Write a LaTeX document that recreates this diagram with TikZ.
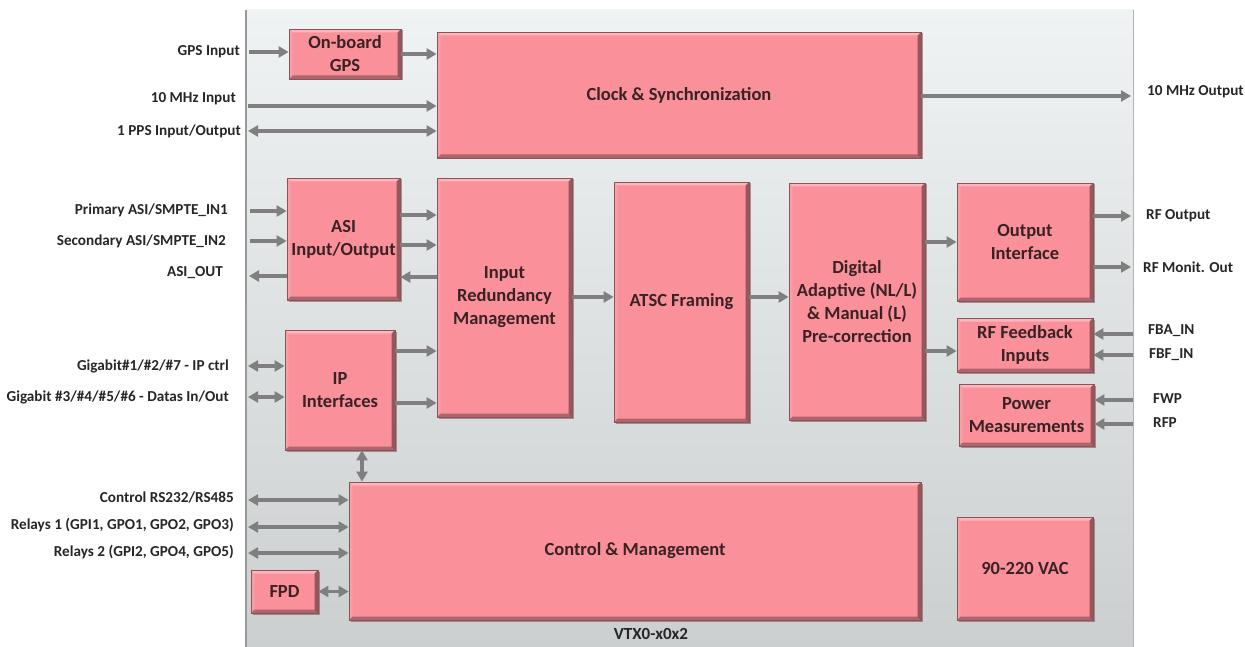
\documentclass[tikz,border=0pt]{standalone}
\usepackage{fontspec}
\setmainfont{Carlito}
\usetikzlibrary{arrows.meta,shadows}
\definecolor{boxpink}{HTML}{F9909A}
\definecolor{boxedge}{HTML}{8E5358}
\definecolor{boxdark}{HTML}{6E3C40}
\definecolor{arrgray}{HTML}{7F7F7F}
\definecolor{paneltop}{HTML}{F0F3F3}
\definecolor{panelbot}{HTML}{CBCFCF}
\definecolor{txt}{HTML}{262626}
\definecolor{btxt}{HTML}{3A2224}
\begin{document}
\begin{tikzpicture}[x=1pt,y=-1pt,
 blk/.style={rectangle, fill=boxpink, draw=boxedge, line width=0.8pt, inner sep=2pt, align=center,
   font=\fontsize{18.5}{23}\selectfont\bfseries, text=btxt,
   general shadow={shadow xshift=1.5pt, shadow yshift=-1.5pt, fill=boxdark, opacity=0.5},
   path picture={
     \fill[white,opacity=.35] (path picture bounding box.north west) -- (path picture bounding box.north east)
        -- ([shift={(-3.5pt,-3.5pt)}]path picture bounding box.north east) -- ([shift={(3.5pt,-3.5pt)}]path picture bounding box.north west) -- cycle;
     \fill[black,opacity=.3] (path picture bounding box.south west) -- (path picture bounding box.south east)
        -- ([shift={(-3.5pt,3.5pt)}]path picture bounding box.south east) -- ([shift={(3.5pt,3.5pt)}]path picture bounding box.south west) -- cycle;
     \fill[black,opacity=.4] (path picture bounding box.north east) -- (path picture bounding box.south east)
        -- ([shift={(-3.5pt,3.5pt)}]path picture bounding box.south east) -- ([shift={(-3.5pt,-3.5pt)}]path picture bounding box.north east) -- cycle;
     \fill[white,opacity=.12] (path picture bounding box.north west) -- (path picture bounding box.south west)
        -- ([shift={(3.5pt,3.5pt)}]path picture bounding box.south west) -- ([shift={(3.5pt,-3.5pt)}]path picture bounding box.north west) -- cycle;
   }},
 lbl/.style={font=\fontsize{15.2}{18}\selectfont\bfseries, text=txt, inner sep=0},
 lbll/.style={lbl, anchor=east},
 lblr/.style={lbl, anchor=west},
 arr/.style={draw=arrgray, line width=3.5pt, -{Triangle[length=10pt,width=11pt]}},
 darr/.style={draw=arrgray, line width=3.5pt, {Triangle[length=10pt,width=11pt]}-{Triangle[length=10pt,width=11pt]}},
]
\useasboundingbox (0,0) rectangle (1245,647);
% panel
\fill[top color=paneltop, bottom color=panelbot] (246,10) rectangle (1133,647);
\draw[gray!80, line width=1.2pt] (246,10) -- (246,647);
\draw[gray!60, line width=1pt] (1133,10) -- (1133,647);

% blocks
\node[blk, minimum width=112, minimum height=50] (gps) at (345,54) {On-board\\GPS};
\node[blk, minimum width=484, minimum height=126] (clock) at (679,95) {Clock \& Synchronization};
\node[blk, minimum width=113, minimum height=122] (asi) at (343.5,239) {ASI\\Input/Output};
\node[blk, minimum width=135, minimum height=239] (irm) at (504.5,297.5) {Input\\Redundancy\\Management};
\node[blk, minimum width=135, minimum height=240] (atsc) at (681.5,302) {ATSC Framing};
\node[blk, minimum width=136, minimum height=237] (dig) at (857,301.5) {Digital\\Adaptive (NL/L)\\\& Manual (L)\\Pre-correction};
\node[blk, minimum width=136, minimum height=118] (outif) at (1025,242) {Output\\Interface};
\node[blk, minimum width=136, minimum height=54] (rffb) at (1025,345) {RF Feedback\\Inputs};
\node[blk, minimum width=135, minimum height=62] (pwr) at (1026.5,415) {Power\\Measurements};
\node[blk, minimum width=110, minimum height=120] (ip) at (340,390) {IP\\Interfaces};
\node[blk, minimum width=572, minimum height=138] (ctrl) at (635,551) {Control \& Management};
\node[blk, minimum width=136, minimum height=103] (vac) at (1025,568.5) {90-220 VAC};
\node[blk, minimum width=67, minimum height=43] (fpd) at (284.5,591.5) {FPD};
\node[lbl, font=\fontsize{17}{20}\selectfont\bfseries] (vtx) at (651,634) {VTX0-x0x2};

% left labels
\node[lbll] (lgps) at (240,52) {GPS Input};
\node[lbll] (l10) at (236,99) {10 MHz Input};
\node[lbll] (lpps) at (241,131) {1 PPS Input/Output};
\node[lbll] (lpri) at (228,210) {Primary ASI/SMPTE\_IN1};
\node[lbll] (lsec) at (226,241) {Secondary ASI/SMPTE\_IN2};
\node[lbll] (lout) at (223,273) {ASI\_OUT};
\node[lbll] (lg1) at (229,366) {Gigabit\#1/\#2/\#7 - IP ctrl};
\node[lbll] (lg3) at (229,397) {Gigabit \#3/\#4/\#5/\#6 - Datas In/Out};
\node[lbll] (lrs) at (234,498) {Control RS232/RS485};
\node[lbll] (lr1) at (234,525) {Relays 1 (GPI1, GPO1, GPO2, GPO3)};
\node[lbll] (lr2) at (234,552) {Relays 2 (GPI2, GPO4, GPO5)};

% right labels
\node[lblr] (r10) at (1147,92) {10 MHz Output};
\node[lblr] (rrf) at (1146,216) {RF Output};
\node[lblr] (rmon) at (1143,267) {RF Monit. Out};
\node[lblr] (rfba) at (1148,331) {FBA\_IN};
\node[lblr] (rfbf) at (1149,355) {FBF\_IN};
\node[lblr] (rfwp) at (1153,399) {FWP};
\node[lblr] (rrfp) at (1153,423) {RFP};

% free ends / levels
\coordinate (cgps) at (249,52);
\coordinate (c10) at (248,106);
\coordinate (cpps) at (248,131);
\coordinate (c10o) at (1131,96);
\coordinate (cpri) at (250,211);
\coordinate (csec) at (250,241);
\coordinate (cout) at (249,276);
\coordinate (ya1) at (0,215);
\coordinate (ya2) at (0,245);
\coordinate (ya3) at (0,277);
\coordinate (cg1) at (248,366);
\coordinate (cg3) at (248,397);
\coordinate (yi1) at (0,351);
\coordinate (yi2) at (0,403);
\coordinate (y297) at (0,297);
\coordinate (y351) at (0,351);
\coordinate (crf) at (1131,216);
\coordinate (cmon) at (1131,267);
\coordinate (cfba) at (1133,334);
\coordinate (cfbf) at (1133,355);
\coordinate (cfwp) at (1133,400);
\coordinate (crfp) at (1133,424);
\coordinate (xv) at (362,0);
\coordinate (crs) at (248,500);
\coordinate (cr1) at (248,527);
\coordinate (cr2) at (248,553);

% connectors
\draw[arr] (cgps) -- (cgps -| gps.west);
\draw[arr] (gps.east) -- (gps.east -| clock.west);
\draw[arr] (c10) -- (c10 -| clock.west);
\draw[darr] (cpps) -- (cpps -| clock.west);
\draw[arr] (clock.east |- c10o) -- (c10o);
\draw[arr] (cpri) -- (cpri -| asi.west);
\draw[arr] (csec) -- (csec -| asi.west);
\draw[arr] (cout -| asi.west) -- (cout);
\draw[arr] (asi.east |- ya1) -- (irm.west |- ya1);
\draw[arr] (asi.east |- ya2) -- (irm.west |- ya2);
\draw[arr] (irm.west |- ya3) -- (asi.east |- ya3);
\draw[darr] (cg1) -- (cg1 -| ip.west);
\draw[darr] (cg3) -- (cg3 -| ip.west);
\draw[arr] (ip.east |- yi1) -- (irm.west |- yi1);
\draw[arr] (ip.east |- yi2) -- (irm.west |- yi2);
\draw[arr] (irm.east |- y297) -- (atsc.west |- y297);
\draw[arr] (atsc.east |- y297) -- (dig.west |- y297);
\draw[arr] (dig.east |- outif.west) -- (outif.west);
\draw[arr] (dig.east |- y351) -- (rffb.west |- y351);
\draw[arr] (outif.east |- crf) -- (crf);
\draw[arr] (outif.east |- cmon) -- (cmon);
\draw[arr] (cfba) -- (cfba -| rffb.east);
\draw[arr] (cfbf) -- (cfbf -| rffb.east);
\draw[arr] (cfwp) -- (cfwp -| pwr.east);
\draw[arr] (crfp) -- (crfp -| pwr.east);
\draw[darr] (ip.south -| xv) -- (ctrl.north -| xv);
\draw[darr] (crs) -- (crs -| ctrl.west);
\draw[darr] (cr1) -- (cr1 -| ctrl.west);
\draw[darr] (cr2) -- (cr2 -| ctrl.west);
\draw[darr] (fpd.east) -- (fpd.east -| ctrl.west);
\end{tikzpicture}
\end{document}
